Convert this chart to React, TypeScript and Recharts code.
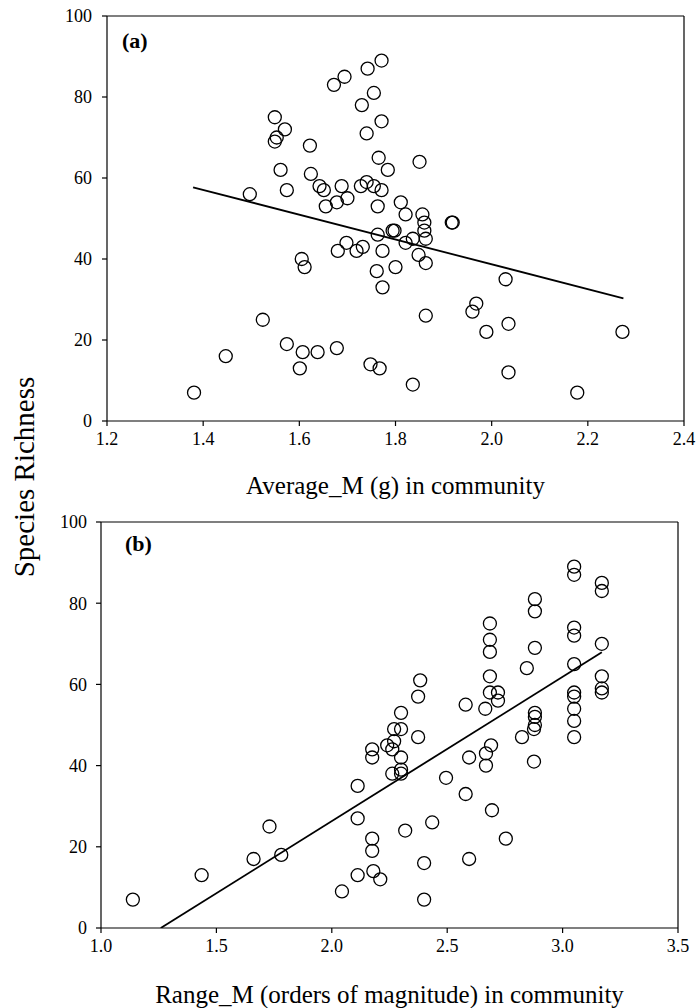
import React from 'react';
import {
  ScatterChart,
  Scatter,
  XAxis,
  YAxis,
  ReferenceLine,
} from 'recharts';

// panel (a): average body mass vs species richness
const avgMass = [
  1.381, 1.447, 1.497, 1.524, 1.549, 1.553, 1.549, 1.570, 1.561, 1.574,
  1.574, 1.601, 1.605, 1.611, 1.607, 1.622, 1.624, 1.638, 1.642, 1.651,
  1.655, 1.672, 1.678, 1.678, 1.680, 1.688, 1.694, 1.698, 1.700, 1.719,
  1.728, 1.730, 1.732, 1.740, 1.740, 1.742, 1.748, 1.755, 1.755, 1.761,
  1.763, 1.763, 1.765, 1.767, 1.771, 1.771, 1.771, 1.773, 1.773, 1.784,
  1.794, 1.798, 1.800, 1.811, 1.821, 1.821, 1.836, 1.836, 1.848, 1.850,
  1.856, 1.860, 1.860, 1.863, 1.863, 1.863, 1.917, 1.919, 1.960, 1.968,
  1.989, 2.029, 2.035, 2.035, 2.178, 2.272,
];
const richnessA = [
  7, 16, 56, 25, 75, 70, 69, 72, 62, 57,
  19, 13, 40, 38, 17, 68, 61, 17, 58, 57,
  53, 83, 54, 18, 42, 58, 85, 44, 55, 42,
  58, 78, 43, 59, 71, 87, 14, 58, 81, 37,
  53, 46, 65, 13, 57, 74, 89, 42, 33, 62,
  47, 47, 38, 54, 51, 44, 45, 9, 41, 64,
  51, 49, 47, 45, 39, 26, 49, 49, 27, 29,
  22, 35, 24, 12, 7, 22,
];
const fitAX = [1.379, 2.274];
const fitAY = [57.7, 30.3];
const ticksAX = [1.2, 1.4, 1.6, 1.8, 2.0, 2.2, 2.4];

// panel (b): body mass range vs species richness
const rangeMass = [
  1.138, 1.436, 1.661, 1.730, 1.781, 2.044, 2.112, 2.112, 2.112, 2.175,
  2.175, 2.175, 2.175, 2.180, 2.210, 2.240, 2.262, 2.262, 2.270, 2.270,
  2.300, 2.300, 2.300, 2.300, 2.300, 2.318, 2.374, 2.374, 2.383, 2.400,
  2.400, 2.435, 2.495, 2.580, 2.580, 2.595, 2.595, 2.665, 2.668, 2.668,
  2.685, 2.685, 2.685, 2.685, 2.685, 2.690, 2.694, 2.720, 2.720, 2.754,
  2.824, 2.845, 2.876, 2.876, 2.880, 2.880, 2.880, 2.880, 2.880, 2.880,
  3.050, 3.050, 3.050, 3.050, 3.050, 3.050, 3.050, 3.050, 3.050, 3.050,
  3.170, 3.170, 3.170, 3.170, 3.170, 3.170,
];
const richnessB = [
  7, 13, 17, 25, 18, 9, 35, 27, 13, 44,
  42, 22, 19, 14, 12, 45, 44, 38, 49, 46,
  49, 42, 39, 38, 53, 24, 47, 57, 61, 16,
  7, 26, 37, 33, 55, 42, 17, 54, 43, 40,
  75, 71, 68, 62, 58, 45, 29, 58, 56, 22,
  47, 64, 49, 41, 81, 78, 69, 53, 52, 50,
  89, 87, 74, 72, 65, 58, 57, 54, 51, 47,
  85, 83, 70, 62, 59, 58,
];
const fitBX = [1.259, 3.17];
const fitBY = [0, 67.9];
const ticksBX = [1.0, 1.5, 2.0, 2.5, 3.0, 3.5];

const ticksY = [0, 20, 40, 60, 80, 100];

const pairs = (xs: number[], ys: number[]) => xs.map((x, i) => ({ x, y: ys[i] }));

const FONT = '"Liberation Serif", "Times New Roman", serif';
const axisLine = { stroke: '#000', strokeWidth: 1.2 };

const XTick = (props: any) => {
  const { x, y, payload } = props;
  return (
    <text
      x={x}
      y={y}
      dy="0.71em"
      textAnchor="middle"
      fill="#000"
      fontSize={18}
      fontFamily="Liberation Serif"
      style={{ fontFamily: FONT, fontSize: 18 }}
    >
      {Number(payload.value).toFixed(1)}
    </text>
  );
};

const YTick = (props: any) => {
  const { x, y, payload } = props;
  return (
    <text
      x={x}
      y={y}
      dy="0.355em"
      textAnchor="end"
      fill="#000"
      fontSize={18}
      fontFamily="Liberation Serif"
      style={{ fontFamily: FONT, fontSize: 18 }}
    >
      {payload.value}
    </text>
  );
};

const Ring = (props: any) => {
  const { cx, cy } = props;
  if (cx == null || cy == null) return <g />;
  return <circle cx={cx} cy={cy} r={6.5} fill="none" stroke="#000" strokeWidth={1.3} />;
};

const NoDot = () => <g />;

type PanelProps = {
  data: { x: number; y: number }[];
  fit: { x: number; y: number }[];
  xTicks: number[];
  xLabel: string;
  width: number;
  height: number;
  margin: { top: number; right: number; bottom: number; left: number };
  yWidth: number;
  xHeight: number;
  yTickMargin: number;
  labelOffset: number;
};

const Panel = (p: PanelProps) => {
  const xMin = p.xTicks[0];
  const xMax = p.xTicks[p.xTicks.length - 1];
  return (
    <ScatterChart width={p.width} height={p.height} margin={p.margin}>
      <XAxis
        type="number"
        dataKey="x"
        domain={[xMin, xMax]}
        ticks={p.xTicks}
        tick={<XTick />}
        tickSize={5}
        tickMargin={6}
        axisLine={axisLine}
        tickLine={axisLine}
        height={p.xHeight}
        allowDataOverflow
        label={{
          value: p.xLabel,
          position: 'insideBottom',
          offset: p.labelOffset,
          style: { fill: '#000', fontSize: 25, fontFamily: FONT },
        }}
      />
      <YAxis
        type="number"
        dataKey="y"
        domain={[0, 100]}
        ticks={ticksY}
        tick={<YTick />}
        tickSize={5}
        tickMargin={p.yTickMargin}
        axisLine={axisLine}
        tickLine={axisLine}
        width={p.yWidth}
        allowDataOverflow
      />
      <ReferenceLine y={100} stroke="#000" strokeWidth={1.2} />
      <ReferenceLine x={xMax} stroke="#000" strokeWidth={1.2} />
      <Scatter data={p.data} shape={Ring} isAnimationActive={false} />
      <Scatter
        data={p.fit}
        shape={NoDot}
        line={{ stroke: '#000', strokeWidth: 1.8 }}
        isAnimationActive={false}
      />
    </ScatterChart>
  );
};

const panelTag: React.CSSProperties = {
  position: 'absolute',
  fontFamily: FONT,
  fontWeight: 'bold',
  fontSize: 22,
  lineHeight: 1,
};

export default function App() {
  return (
    <div
      style={{
        position: 'absolute',
        left: 0,
        top: 0,
        width: 700,
        height: 1008,
        background: '#fff',
        fontFamily: FONT,
      }}
    >
      <div style={{ position: 'absolute', left: 0, top: 0 }}>
        <Panel
          data={pairs(avgMass, richnessA)}
          fit={pairs(fitAX, fitAY)}
          xTicks={ticksAX}
          xLabel="Average_M (g) in community"
          width={700}
          height={500}
          margin={{ top: 16, right: 16, bottom: 0, left: 0 }}
          yWidth={107}
          xHeight={79}
          yTickMargin={10}
          labelOffset={6}
        />
      </div>
      <div style={{ position: 'absolute', left: 0, top: 500 }}>
        <Panel
          data={pairs(rangeMass, richnessB)}
          fit={pairs(fitBX, fitBY)}
          xTicks={ticksBX}
          xLabel="Range_M (orders of magnitude) in community"
          width={700}
          height={508}
          margin={{ top: 22, right: 22, bottom: 0, left: 0 }}
          yWidth={101}
          xHeight={80}
          yTickMargin={9}
          labelOffset={5}
        />
      </div>
      <div style={{ ...panelTag, left: 122, top: 30 }}>(a)</div>
      <div style={{ ...panelTag, left: 125, top: 533 }}>(b)</div>
      <div
        style={{
          position: 'absolute',
          left: 23.5,
          top: 477,
          transform: 'translate(-50%, -50%) rotate(-90deg)',
          whiteSpace: 'nowrap',
          fontSize: 29,
          color: '#000',
        }}
      >
        Species Richness
      </div>
    </div>
  );
}
